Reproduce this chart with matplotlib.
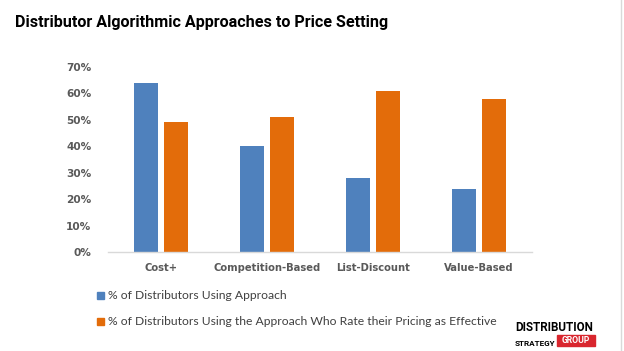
import numpy as np
import matplotlib
matplotlib.use("Agg")
import matplotlib.pyplot as plt
from matplotlib.patches import Rectangle

categories = ["Cost+", "Competition-Based", "List-Discount", "Value-Based"]
using_pct = [0.64, 0.40, 0.28, 0.24]
effective_pct = [0.49, 0.51, 0.61, 0.58]
series_names = ["% of Distributors Using Approach",
                "% of Distributors Using the Approach Who Rate their Pricing as Effective"]
yticks = [0, 0.1, 0.2, 0.3, 0.4, 0.5, 0.6, 0.7]

BLUE = "#4F81BD"
ORANGE = "#E36C0A"
GRAY = "#595959"

W, H = 624, 351
fig = plt.figure(figsize=(W / 100, H / 100), dpi=100)

# axes placed by pixel coords
left, right, bottom, top = 108, 532, 252.3, 66.7
ax = fig.add_axes([left / W, 1 - bottom / H, (right - left) / W, (bottom - top) / H])

x = np.arange(len(categories))
bw = 0.227
off = 0.1415
ax.bar(x - off, using_pct, bw, color=BLUE)
ax.bar(x + off, effective_pct, bw, color=ORANGE)

ax.set_xlim(-0.5, len(categories) - 0.5)
ax.set_ylim(0, 0.7)
ax.set_yticks(yticks)
ax.set_yticklabels([f"{int(round(t * 100))}%" for t in yticks],
                   fontsize=7.6, fontweight="bold", color=GRAY)
ax.set_xticks(x)
ax.set_xticklabels(categories, fontsize=7.2, fontweight="bold", color=GRAY)
ax.tick_params(length=0)
ax.tick_params(axis="y", pad=12)
ax.tick_params(axis="x", pad=8)
for s in ["top", "right", "left"]:
    ax.spines[s].set_visible(False)
ax.spines["bottom"].set_color("#D9D9D9")
ax.spines["bottom"].set_linewidth(1)

# title
fig.text(15 / W, 1 - 27.5 / H, "Distributor Algorithmic Approaches to Price Setting",
         fontsize=11.6, fontweight="bold", family="Roboto", color="black",
         ha="left", va="baseline")

# legend, drawn manually to match layout
for i, (name, col) in enumerate(zip(series_names, [BLUE, ORANGE])):
    yc = [295.7, 321.7][i]
    fig.patches.append(Rectangle((97 / W, 1 - (yc + 3.5) / H), 7 / W, 7 / H,
                                 transform=fig.transFigure, color=col))
    fig.text(108 / W, 1 - yc / H, name, fontsize=8.75, color="#404040",
             family="Lato", ha="left", va="center")

# logo
fig.text(515 / W, 1 - 331 / H, "DISTRIBUTION", fontsize=8.4, fontweight="bold",
         family="Roboto", color="black", ha="left", va="baseline")
fig.text(515 / W, 1 - 345.5 / H, "STRATEGY", fontsize=5.9, fontweight="bold",
         family="Roboto", color="black", ha="left", va="baseline")
fig.patches.append(Rectangle((557 / W, 1 - 346 / H), 38 / W, 11 / H,
                             transform=fig.transFigure, color="#D9262E"))
fig.text(576 / W, 1 - 340.5 / H, "GROUP", fontsize=6.2, fontweight="bold",
         family="Roboto", color="white", ha="center", va="center")

# border line at right edge
fig.add_artist(plt.Line2D([621 / W, 621 / W], [0, 1], transform=fig.transFigure,
                          color="#D9D9D9", linewidth=1))

fig.savefig("out.png", dpi=100)
